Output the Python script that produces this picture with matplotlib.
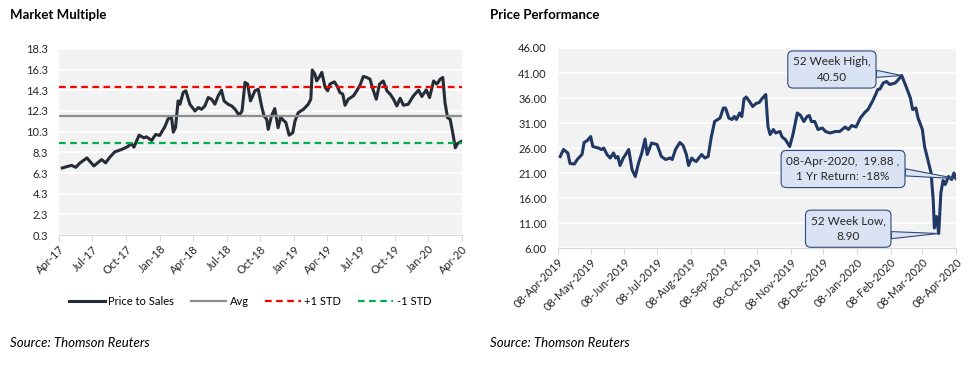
import matplotlib
matplotlib.use("Agg")
import matplotlib.pyplot as plt
import matplotlib.dates as mdates
from matplotlib.lines import Line2D
import pandas as pd

plt.rcParams['font.family'] = ['Lato', 'DejaVu Sans']

# ---- Market Multiple (price to sales), days since 2017-04-01 ----
ps_start = "2017-04-01"
ps_days = [9, 34, 46, 56, 76, 95, 116, 127, 138, 152, 170, 186, 197, 204, 218, 231,
           238, 252, 263, 274, 288, 297, 306, 311, 317, 324, 329, 338, 345, 356, 370,
           379, 388, 397, 406, 415, 424, 433, 442, 449, 460, 470, 479, 490, 498, 506,
           513, 521, 533, 542, 551, 558, 565, 569, 578, 587, 596, 603, 610, 617, 626,
           636, 642, 651, 665, 678, 685, 689, 696, 701, 710, 715, 724, 731, 737, 749,
           757, 764, 772, 778, 787, 801, 810, 819, 828, 837, 846, 854, 863, 872, 882,
           892, 901, 910, 919, 928, 937, 950, 964, 978, 987, 999, 1008, 1019, 1028,
           1037, 1044, 1050, 1057, 1064, 1071, 1078, 1084, 1096]
ps_values = [6.79, 7.04, 6.85, 7.24, 7.76, 6.98, 7.60, 7.28, 7.82, 8.35, 8.57, 8.83,
             9.15, 8.80, 9.96, 9.70, 9.80, 9.45, 10.03, 9.93, 10.78, 11.55, 11.70,
             10.25, 10.70, 13.27, 12.95, 14.10, 14.25, 12.95, 12.30, 12.63, 12.46,
             12.80, 13.60, 13.44, 12.95, 13.76, 14.31, 13.27, 12.95, 12.78, 12.46,
             11.88, 12.30, 15.06, 14.90, 13.27, 14.25, 14.40, 12.78, 11.80, 11.50,
             10.52, 11.80, 12.53, 10.68, 11.70, 11.40, 11.20, 9.96, 10.20, 11.33,
             12.14, 12.46, 12.95, 13.44, 16.26, 15.87, 15.20, 15.70, 16.03, 14.57,
             14.25, 14.90, 15.12, 14.67, 14.09, 13.92, 12.85, 13.44, 13.76, 14.25,
             14.80, 15.64, 15.54, 15.38, 14.40, 13.44, 14.90, 15.20, 14.25, 13.92,
             13.44, 12.78, 13.53, 12.85, 12.95, 13.76, 14.31, 13.70, 14.34, 13.60,
             15.20, 14.90, 15.38, 15.54, 13.11, 11.65, 11.50, 10.20, 8.74, 9.15, 9.38]
ps_avg = 11.85
ps_plus_std = 14.57
ps_minus_std = 9.22

# ---- Price Performance, days since 2019-04-08 ----
px_start = "2019-04-08"
px_days = [2, 5, 9, 11, 15, 18, 22, 24, 27, 30, 32, 37, 40, 42, 45, 48, 51, 53, 55,
           57, 60, 63, 65, 68, 71, 74, 77, 80, 82, 86, 91, 95, 99, 103, 105, 108, 112,
           115, 118, 120, 123, 124, 127, 132, 135, 138, 141, 144, 149, 152, 154, 157,
           160, 162, 164, 167, 169, 171, 173, 176, 179, 182, 185, 188, 191, 193, 195,
           198, 200, 204, 206, 209, 213, 216, 220, 223, 226, 229, 231, 233, 236, 239,
           243, 246, 250, 255, 259, 264, 267, 270, 274, 278, 282, 285, 289, 292, 294,
           296, 299, 302, 305, 310, 313, 316, 320, 324, 326, 329, 331, 335, 337, 340,
           343, 345, 346, 348, 350, 352, 354, 356, 359, 362, 364, 366]
px_values = [24.3, 25.7, 25.0, 22.9, 22.8, 23.8, 24.7, 27.1, 27.5, 28.3, 26.3, 26.0,
             25.7, 26.0, 24.7, 24.0, 25.0, 24.0, 24.3, 22.5, 24.0, 25.0, 25.7, 21.7,
             20.3, 23.0, 25.0, 27.8, 24.7, 27.0, 26.7, 24.3, 23.7, 24.0, 23.7, 25.7,
             27.1, 26.5, 24.7, 22.5, 24.0, 23.7, 23.3, 24.7, 24.0, 24.3, 28.3, 31.3,
             32.0, 34.0, 34.0, 32.0, 31.7, 32.3, 31.7, 33.0, 32.3, 35.8, 36.2, 35.3,
             34.3, 34.9, 35.1, 36.0, 36.7, 30.3, 28.7, 29.7, 29.0, 29.3, 28.2, 27.7,
             26.3, 28.7, 33.0, 32.5, 31.3, 32.3, 32.5, 31.3, 31.3, 29.7, 30.0, 29.3,
             29.0, 29.3, 29.3, 30.2, 29.7, 30.5, 30.2, 32.0, 33.1, 33.7, 35.3, 36.7,
             37.7, 37.8, 39.0, 39.3, 38.7, 39.0, 39.7, 40.5, 38.3, 36.0, 33.7, 34.0,
             32.0, 29.7, 26.3, 23.7, 21.0, 15.5, 10.0, 12.3, 8.9, 17.0, 19.5, 18.7,
             20.3, 19.7, 21.0, 19.88]
high_text = "52 Week High,\n40.50"
low_text = "52 Week Low,\n8.90"
last_text = "08-Apr-2020,  19.88 ,\n1 Yr Return: -18%"

ps_dates = pd.Timestamp(ps_start) + pd.to_timedelta(ps_days, unit="D")
px_dates = pd.Timestamp(px_start) + pd.to_timedelta(px_days, unit="D")

fig = plt.figure(figsize=(9.78, 3.65), dpi=100)
bg = "#F2F2F2"
tick_color = "#262626"


def style_axes(ax):
    ax.set_facecolor(bg)
    for s in ["top", "right", "left"]:
        ax.spines[s].set_visible(False)
    ax.spines["bottom"].set_color("#D9D9D9")
    ax.grid(axis="y", color="white", lw=1.2)
    ax.set_axisbelow(True)
    ax.tick_params(axis="y", length=0, labelsize=8, labelcolor=tick_color, pad=8)
    ax.tick_params(axis="x", length=4, color="#D9D9D9", labelsize=8,
                   labelcolor=tick_color, pad=2)


# ---- left chart ----
ax1 = fig.add_axes([0.0603, 0.356, 0.412, 0.510])
style_axes(ax1)
ax1.plot(ps_dates, ps_values, color="#262C36", lw=2.2, solid_joinstyle="round")
ax1.axhline(ps_avg, color="#8C8C8C", lw=1.6)
ax1.axhline(ps_plus_std, color="#FF0000", lw=1.6, ls=(0, (3, 2)))
ax1.axhline(ps_minus_std, color="#00B050", lw=1.6, ls=(0, (3, 2)))
ax1.set_ylim(0.3, 18.3)
ax1.set_yticks([0.3 + 2 * i for i in range(10)])
ax1.yaxis.set_major_formatter(plt.FormatStrFormatter("%.1f"))
ax1.set_xlim(pd.Timestamp("2017-04-01"), pd.Timestamp("2020-04-01"))
ax1.xaxis.set_major_locator(mdates.MonthLocator(bymonth=[1, 4, 7, 10], bymonthday=1))
ax1.xaxis.set_major_formatter(mdates.DateFormatter("%b-%y"))
for lab in ax1.get_xticklabels():
    lab.set_rotation(45)
    lab.set_ha("right")
    lab.set_rotation_mode("anchor")

handles = [Line2D([], [], color="#262C36", lw=2.2),
           Line2D([], [], color="#8C8C8C", lw=1.6),
           Line2D([], [], color="#FF0000", lw=1.6, ls=(0, (3, 2))),
           Line2D([], [], color="#00B050", lw=1.6, ls=(0, (3, 2)))]
fig.legend(handles, ["Price to Sales", "Avg", "+1 STD", "-1 STD"], ncol=4,
           loc="center", bbox_to_anchor=(0.256, 0.173), frameon=False, fontsize=8,
           handlelength=3.2, handletextpad=0.3, columnspacing=1.5)

# ---- right chart ----
ax2 = fig.add_axes([0.5706, 0.3205, 0.407, 0.548])
style_axes(ax2)
ax2.plot(px_dates, px_values, color="#1F3864", lw=2.2, solid_joinstyle="round")
ax2.set_ylim(6, 46)
ax2.set_yticks(range(6, 47, 5))
ax2.yaxis.set_major_formatter(plt.FormatStrFormatter("%.2f"))
ax2.set_xlim(pd.Timestamp("2019-04-08"), pd.Timestamp("2020-04-08"))
ax2.xaxis.set_major_locator(mdates.MonthLocator(bymonthday=8))
ax2.xaxis.set_major_formatter(mdates.DateFormatter("%d-%b-%Y"))
for lab in ax2.get_xticklabels():
    lab.set_rotation(45)
    lab.set_ha("right")
    lab.set_rotation_mode("anchor")

box = dict(boxstyle="round,pad=0.45", fc="#DAE3F3", ec="#2F4A7A", lw=0.8)
i_hi = px_values.index(max(px_values))
i_lo = px_values.index(min(px_values))
for text, idx, pos, rel in [(high_text, i_hi, (0.688, 0.8925), (1.0, 0.35)),
                            (last_text, len(px_values) - 1, (0.716, 0.395), (1.0, 0.4)),
                            (low_text, i_lo, (0.729, 0.0965), (1.0, 0.25))]:
    ax2.annotate(text, xy=(px_dates[idx], px_values[idx]), xycoords="data",
                 xytext=pos, textcoords="axes fraction", ha="center", va="center",
                 fontsize=8.5, color="#262626", linespacing=1.5, bbox=box,
                 arrowprops=dict(arrowstyle="wedge,tail_width=0.6,shrink_factor=0.5",
                                 fc="#DAE3F3", ec="#2F4A7A", lw=0.8, relpos=rel,
                                 shrinkA=0, shrinkB=0))

# ---- titles and sources ----
fig.text(10 / 978, 1 - 15 / 365, "Market Multiple", fontsize=9.5, fontweight="bold",
         va="center")
fig.text(490 / 978, 1 - 15 / 365, "Price Performance", fontsize=9.5, fontweight="bold",
         va="center")
fig.text(10 / 978, 1 - 343 / 365, "Source: Thomson Reuters", fontsize=9.5,
         style="italic", va="center")
fig.text(490 / 978, 1 - 343 / 365, "Source: Thomson Reuters", fontsize=9.5,
         style="italic", va="center")

fig.savefig("out.png", dpi=100, facecolor="white")
